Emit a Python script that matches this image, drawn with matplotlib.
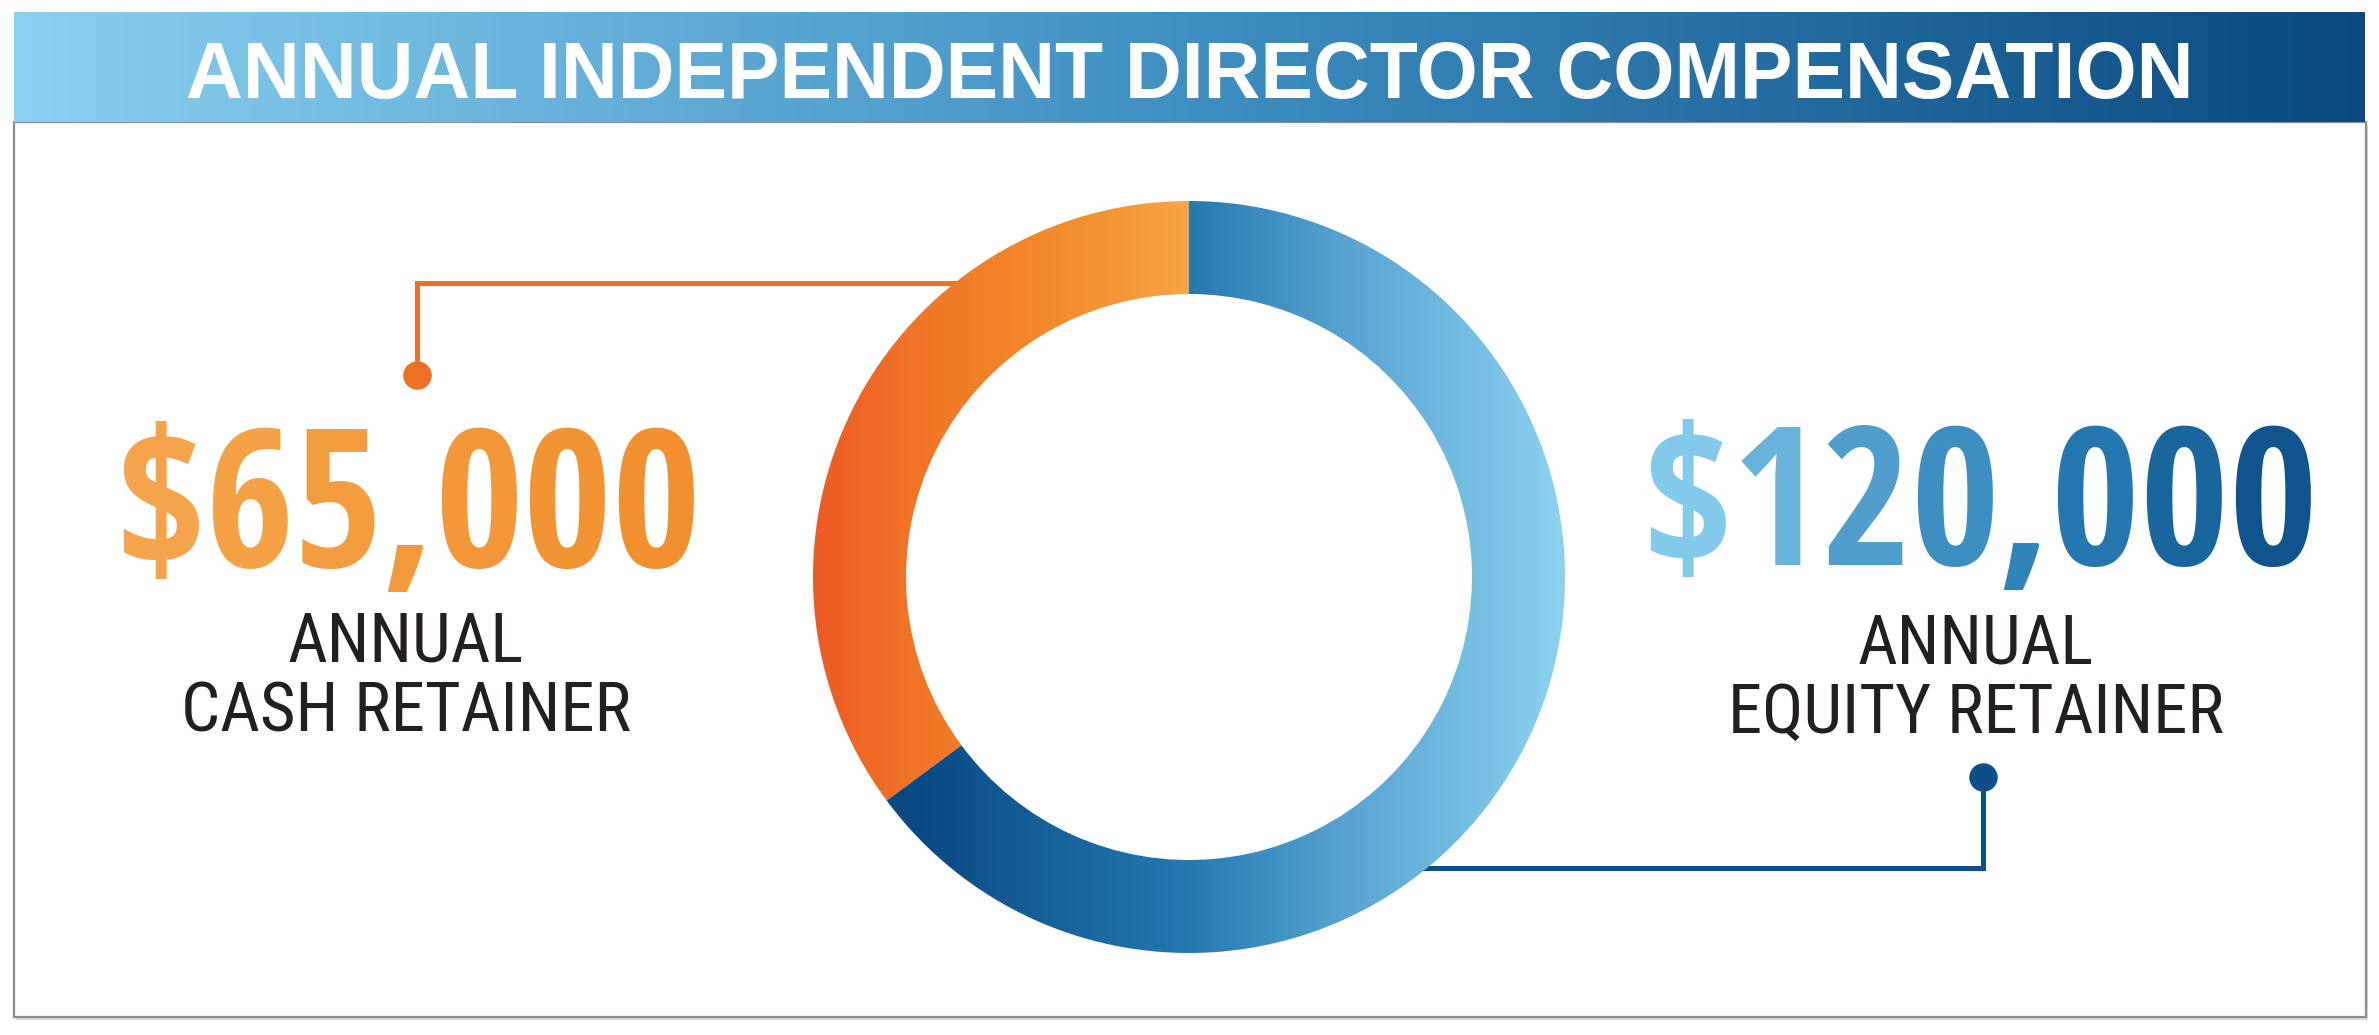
import numpy as np
import matplotlib
matplotlib.use("Agg")
import matplotlib.pyplot as plt
import matplotlib.patheffects as pe
from matplotlib import font_manager as fm
from matplotlib.colors import LinearSegmentedColormap
from matplotlib.patches import Rectangle

# ---- data ----
title = "ANNUAL INDEPENDENT DIRECTOR COMPENSATION"
sub_top = ["ANNUAL", "ANNUAL"]
categories = ["CASH RETAINER", "EQUITY RETAINER"]
values = [65000, 120000]
value_labels = ["${:,}".format(v) for v in values]

W, H = 2379, 1035
fig = plt.figure(figsize=(W / 100, H / 100), dpi=100)
ax = fig.add_axes([0, 0, 1, 1])
ax.axis("off")
ax.set_xlim(0, W)
ax.set_ylim(H, 0)

installed = {f.name for f in fm.fontManager.ttflist}


def pick(cands):
    for c in cands:
        if c in installed:
            return c
    return "DejaVu Sans"


num_font = pick(["Open Sans Condensed", "Roboto Condensed", "Liberation Sans Narrow", "Liberation Sans"])
sub_font = pick(["Roboto Condensed", "Liberation Sans Narrow", "Open Sans Condensed", "Liberation Sans"])
wide = pick(["Liberation Sans", "Open Sans", "DejaVu Sans"])
STROKE = 0 if num_font == "Open Sans Condensed" else 4

r = fig.canvas.get_renderer()


def text_w(s, size, family, weight):
    t = ax.text(0, 0, s, fontsize=size, family=family, weight=weight)
    w = t.get_window_extent(r).width
    t.remove()
    return w


def fit_size(s, target, family, weight):
    return 100 * target / text_w(s, 100, family, weight)


grad = np.linspace(0, 1, 512).reshape(1, -1)

# title bar + white box
bar_cmap = LinearSegmentedColormap.from_list("bar", ["#8ad0ef", "#3f8fc2", "#0a4a80"])
ax.imshow(grad, cmap=bar_cmap, extent=(14, 2365, 122, 12), aspect="auto", zorder=1)
ax.add_patch(Rectangle((16, 125), 2352, 895, facecolor="#dcdcdc", edgecolor="none", zorder=0.3))
ax.add_patch(Rectangle((14, 122), 2352, 895, facecolor="white", edgecolor="#8c8c8c", lw=1.6, zorder=0.5))

tsize = fit_size(title, 2008, wide, "bold")
ax.text(1190, 98, title, color="white", fontsize=tsize, family=wide, weight="bold",
        ha="center", va="baseline", zorder=3)

# connector lines
orange_line = "#ee7024"
blue_line = "#0c4f8a"
ax.plot([417, 417, 962], [375, 283, 283], color=orange_line, lw=3.6, solid_joinstyle="miter", zorder=2)
ax.plot([417], [375], "o", ms=19.5, color=orange_line, zorder=2)
ax.plot([1983, 1983, 1418], [777, 868, 868], color=blue_line, lw=3.6, solid_joinstyle="miter", zorder=2)
ax.plot([1983], [777], "o", ms=19.5, color=blue_line, zorder=2)


def grad_text(xc, yb, s, colors, size, family):
    cmap = LinearSegmentedColormap.from_list("t", colors)
    total = text_w(s, size, family, "bold")
    x0 = xc - total / 2
    for i, ch in enumerate(s):
        cw = text_w(ch, size, family, "bold")
        left = x0 + text_w(s[:i + 1], size, family, "bold") - cw
        c = cmap(np.clip((left + cw / 2 - x0) / total, 0, 1))
        effects = [pe.withStroke(linewidth=STROKE, foreground=c)] if STROKE else None
        ax.text(left, yb, ch, color=c, fontsize=size, family=family, weight="bold",
                ha="left", va="baseline", zorder=3, path_effects=effects)


# big numbers: digit height about 137 px
nsize = (137 - STROKE * 100 / 72) / 0.714 * 0.72
grad_text(408, 567, value_labels[0], ["#f6a64e", "#f39a3c", "#f28e2e"], nsize, num_font)
grad_text(1980, 565, value_labels[1], ["#8fd3f1", "#4e9dcc", "#2479b0", "#0a4c85"], nsize, num_font)

# labels under numbers
ssize = fit_size(categories[0], 450, sub_font, "normal")
for xc, top, cat, yb in zip([406, 1976], sub_top, categories, [662, 663]):
    ax.text(xc, yb, top, color="#231f20", fontsize=ssize, family=sub_font, ha="center", va="baseline", zorder=3)
    ax.text(xc, yb + 70, cat, color="#231f20", fontsize=ssize, family=sub_font, ha="center", va="baseline", zorder=3)

# donut ring
dax = fig.add_axes([(1189 - 376) / W, (H - 577 - 376) / H, 752 / W, 752 / H])
wedges, _ = dax.pie(values, startangle=90, counterclock=True, radius=1,
                    wedgeprops=dict(width=93 / 376, lw=0))
ring_cmaps = [
    LinearSegmentedColormap.from_list("o", [(0, "#ed5a25"), (0.13, "#f07527"), (0.32, "#f38a2a"),
                                            (0.5, "#f6a548"), (1, "#f6a548")]),
    LinearSegmentedColormap.from_list("b", [(0, "#0a4a84"), (0.14, "#0a4a84"), (0.5, "#2479b0"),
                                            (0.7, "#56a2d0"), (1, "#8cd2f0")]),
]
for w, cm in zip(wedges, ring_cmaps):
    w.set_facecolor("none")
    im = dax.imshow(grad, cmap=cm, extent=(-1, 1, -1, 1), aspect="auto", zorder=1)
    im.set_clip_path(w)
dax.set_xlim(-1, 1)
dax.set_ylim(-1, 1)
dax.axis("off")

ax.set_xlim(0, W)
ax.set_ylim(H, 0)
fig.savefig("out.png", dpi=100)
